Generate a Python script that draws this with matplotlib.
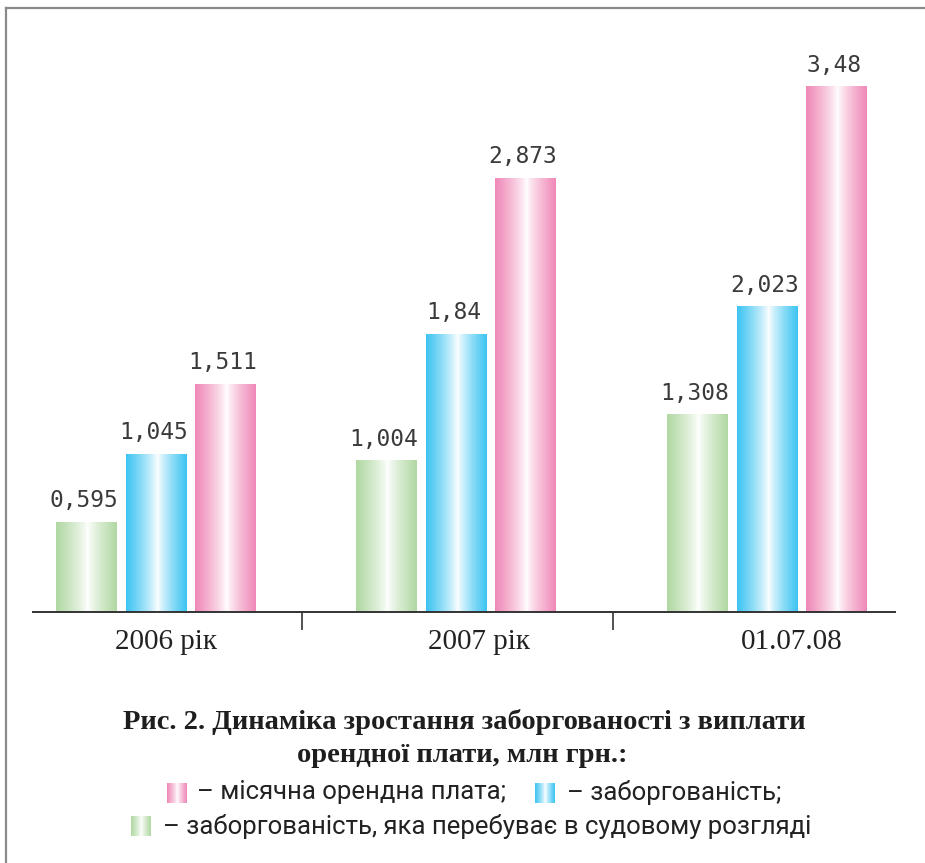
import numpy as np
import matplotlib
matplotlib.use("Agg")
import matplotlib.pyplot as plt
from matplotlib.colors import to_rgb
from matplotlib.lines import Line2D

# data
categories = ["2006 рік", "2007 рік", "01.07.08"]
court_debt = [0.595, 1.004, 1.308]     # green
debt = [1.045, 1.84, 2.023]            # blue
monthly_rent = [1.511, 2.873, 3.48]    # pink
value_text = [["0,595", "1,004", "1,308"],
              ["1,045", "1,84", "2,023"],
              ["1,511", "2,873", "3,48"]]

series = [court_debt, debt, monthly_rent]
colors = ["#b0d8a2", "#3cc4f2", "#f088b7"]

group_pos = np.array([0.0, 1.0, 2.037])
offsets = [-0.232, 0.0, 0.232]
bar_w = 0.203
label_pos = [0.033, 1.077, 2.12]
separators = [0.487, 1.523]


def gradient(col, n=200):
    c = np.array(to_rgb(col))
    x = np.linspace(0, 1, n)
    t = np.where(x < 0.52, (0.52 - x) / 0.52, (x - 0.52) / 0.48)
    t = t ** 0.8
    img = 1 - (1 - c)[None, :] * t[:, None]
    return img[None, :, :]


W, H = 925, 863
fig = plt.figure(figsize=(W / 100, H / 100), dpi=100)
ax = fig.add_axes([33 / W, 251 / H, (895 - 33) / W, (612 - 20) / H])
ax.set_xlim(-0.41, 2.463)
ax.set_ylim(0, 3.92)

for k, vals in enumerate(series):
    bars = ax.bar(group_pos + offsets[k], vals, width=bar_w, color="none", edgecolor="none")
    for b, v, txt in zip(bars, vals, value_text[k]):
        x0 = b.get_x()
        im = ax.imshow(gradient(colors[k]), extent=[x0, x0 + bar_w, 0, v],
                       aspect="auto", interpolation="bilinear", zorder=2)
        im.set_clip_path(b)
        ax.annotate(txt, (x0 + bar_w / 2, v), xytext=(-2, 7), textcoords="offset points",
                    ha="center", va="bottom", fontsize=16.5, color="#3a3a3a",
                    family="DejaVu Sans Mono")

for s in ["left", "right", "top"]:
    ax.spines[s].set_visible(False)
ax.spines["bottom"].set_color("#333333")
ax.spines["bottom"].set_linewidth(1.4)
ax.set_yticks([])
ax.set_xticks(separators, minor=True)
ax.tick_params(axis="x", which="minor", length=13, width=1.2, color="#333333")
ax.set_xticks(label_pos)
ax.set_xticklabels(categories, family="Liberation Serif", fontsize=21, color="#222222")
ax.tick_params(axis="x", which="major", length=0, pad=12)

# frame lines (top & left of the page box)
fig.add_artist(Line2D([6 / W, 6 / W], [0, 1 - 8 / H], color="#8a8a8a", lw=1.6))
fig.add_artist(Line2D([6 / W, 1], [1 - 8 / H, 1 - 8 / H], color="#8a8a8a", lw=1.6))

# caption
title_font = dict(family=["Liberation Serif", "DejaVu Serif"], weight="bold",
                  fontsize=20.5, color="#1e1e1e", ha="center", va="center")
fig.text(464 / W, 1 - 722 / H, "Рис. 2. Динаміка зростання заборгованості з виплати", **title_font)
fig.text(462 / W, 1 - 755 / H, "орендної плати, млн грн.:", **title_font)

# legend line
lax = fig.add_axes([0, 0, 1, 1], zorder=-1)
lax.axis("off")
leg_font = dict(family=["Roboto", "DejaVu Sans"], fontsize=18.5,
                color="#222222", ha="left", va="center")
swatches = [(167, 783, 2), (535, 783, 1), (131, 816, 0)]
for sx, sy, k in swatches:
    lax.imshow(gradient(colors[k]), extent=[sx, sx + 20, sy + 20, sy],
               aspect="auto", interpolation="bilinear")
lax.set_xlim(0, W)
lax.set_ylim(H, 0)
lax.text(197, 792, "– місячна орендна плата;", **leg_font)
lax.text(567, 792, "– заборгованість;", **leg_font)
lax.text(163, 826, "– заборгованість, яка перебуває в судовому розгляді", **leg_font)

fig.savefig("out.png", dpi=100, facecolor="white")
